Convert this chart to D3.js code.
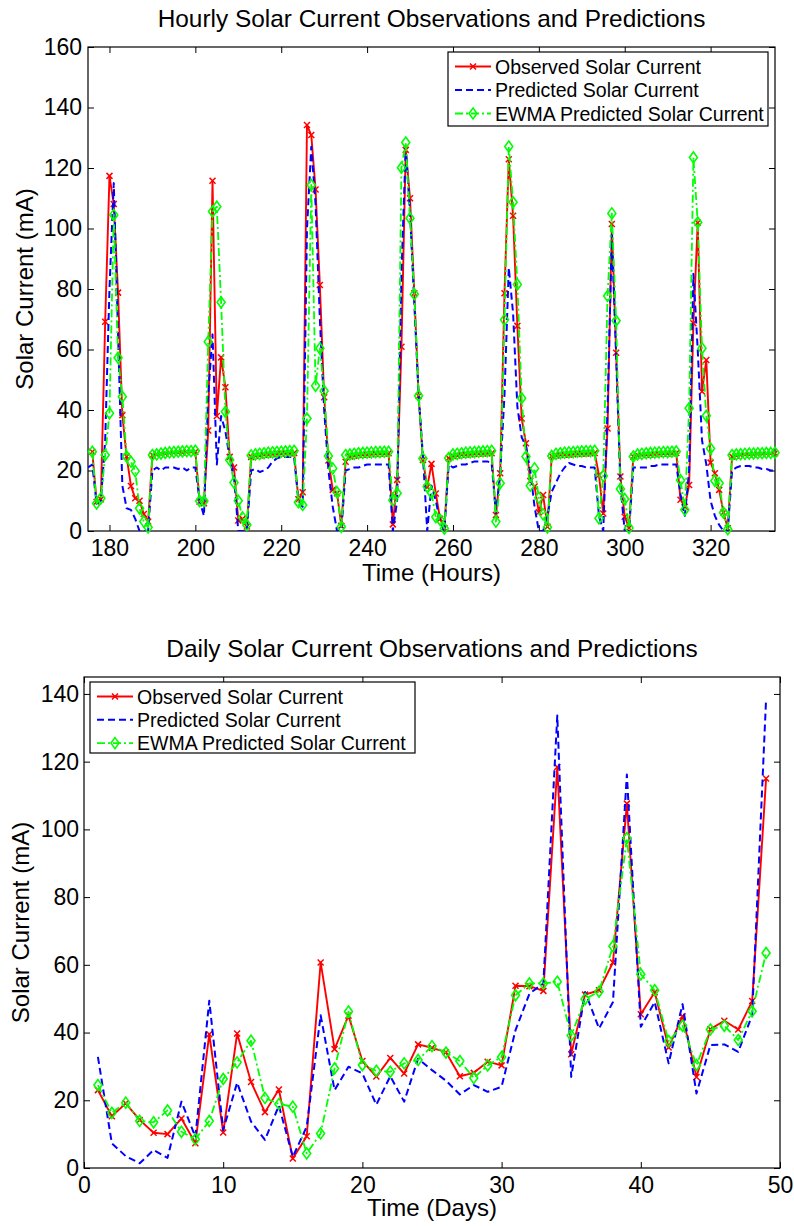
<!DOCTYPE html>
<html>
<head>
<meta charset="utf-8">
<script src="https://cdn.jsdelivr.net/npm/d3@7"></script>
<style>
    body { margin: 0; background: #fff; }
    text { font-family: "Liberation Sans", Arial, Helvetica, sans-serif; fill: #000; }
</style>
</head>
<body>
<svg id="fig" width="794" height="1226"></svg>
<script>
// ---- hourly data (hours 175..335) ----
const hours = d3.range(175, 336);

const obsHourly = [null, 26.2, 9.7, 10.5, 69.2, 117.4, 108.1, 78.8, 38.3, 24.6,
    14.9, 10.8, 10.0, 5.6, 3.1, 25.1, 25.3, 25.5, 25.6, 25.8,
    25.9, 26.0, 26.0, 26.1, 26.2, 26.2, 9.7, 9.2, 33.2, 115.8,
    38.0, 57.4, 47.5, 24.5, 21.0, 3.5, 4.0, 1.5, 24.5, 24.8,
    25.0, 25.2, 25.3, 25.4, 25.5, 25.6, 25.7, 25.7, 25.8, 10.5,
    12.8, 134.2, 130.9, 112.9, 81.3, 44.2, 23.3, 13.6, 12.5, 1.7,
    22.9, 24.6, 24.9, 25.1, 25.2, 25.3, 25.4, 25.5, 25.6, 25.6,
    25.7, 2.2, 16.9, 60.9, 126.0, 110.0, 78.6, 44.6, 23.5, 14.5,
    22.2, 12.4, 4.0, 1.0, 24.1, 24.8, 25.0, 25.2, 25.3, 25.4,
    25.5, 25.6, 25.6, 25.7, 25.7, 5.3, 19.1, 78.6, 122.9, 104.2,
    67.8, 37.2, 29.0, 16.5, 14.7, 6.2, 11.9, 1.4, 24.8, 25.0,
    25.1, 25.2, 25.3, 25.4, 25.5, 25.6, 25.6, 25.7, 25.8, 18.5,
    5.8, 33.9, 101.5, 58.9, 18.0, 4.7, 1.0, 24.6, 25.0, 25.1,
    25.2, 25.3, 25.4, 25.5, 25.6, 25.6, 25.7, 25.8, 10.3, 8.0,
    15.2, 68.7, 101.9, 46.1, 56.5, 22.6, 19.1, 13.6, 6.1, 0.9,
    24.6, 25.0, 25.1, 25.2, 25.3, 25.4, 25.5, 25.5, 25.6, 25.6,
    25.7];

const predHourly = [21, 22, 9, 10, 30, 80, 115, 65, 15, 7.5,
    7, 4, 0, 0, 0, 20, 21, 20, 21, 21,
    21, 20.5, 21, 20, 21, 21, 10, 5, 45, 65,
    22, 38, 33, 24, 18, 0, 0, 0, 20, 20.5,
    19.5, 20, 21, 23, 24, 24.5, 24.5, 24.5, 24.5, 10,
    8, 100, 127, 108, 70, 40, 20, 8, 0, 0,
    20, 20.5, 21, 21, 21.5, 22, 22, 22, 22, 22,
    22, 0, 10, 85, 127, 105, 75, 45, 25, 0,
    15, 10, 3, 0, 22, 21, 21.5, 22, 22, 22.5,
    23, 23, 23, 23, 22.5, 6, 19, 45, 87, 72,
    41, 31, 28, 20, 8, 0, 0, 5, 13, 16,
    19, 21, 22.5, 22, 21.5, 21.5, 21, 21, 21, 5,
    0, 40, 98, 58, 15, 0, 0, 21, 21, 21,
    21, 21.5, 21.5, 22, 22, 22, 22, 22, 12, 5,
    20, 85, 60, 30, 22, 10, 5, 2, 0, 0,
    20, 21, 21.5, 21.5, 21.5, 21, 21, 20.5, 20.5, 20,
    20];

const ewmaHourly = [null, 26.2, 9.1, 10.8, 25.1, 38.9, 104.5, 57.3, 44.4, 24.6,
    22.9, 19.8, 7.5, 3.1, 1.2, 25.1, 25.3, 25.6, 25.8, 26.0,
    26.1, 26.2, 26.3, 26.4, 26.4, 26.5, 9.9, 9.9, 62.6, 105.6,
    107.2, 75.6, 39.4, 23.5, 16.0, 10.0, 4.5, 2.0, 25.0, 25.3,
    25.5, 25.7, 25.9, 26.0, 26.1, 26.2, 26.3, 26.4, 26.5, 9.5,
    8.6, 37.2, 114.4, 48.0, 60.4, 46.3, 24.8, 20.7, 12.8, 1.4,
    25.1, 25.3, 25.5, 25.7, 25.8, 25.9, 26.0, 26.1, 26.1, 26.2,
    26.2, 10.2, 12.5, 120.1, 128.4, 103.4, 78.3, 44.7, 24.0, 14.7,
    12.6, 4.6, 3.7, 0.8, 24.1, 25.3, 25.5, 25.7, 25.9, 26.0,
    26.1, 26.2, 26.3, 26.4, 26.5, 3.1, 15.8, 69.8, 127.1, 108.7,
    81.5, 43.9, 24.6, 15.0, 20.7, 11.0, 5.5, 1.2, 24.8, 25.5,
    25.7, 25.9, 26.0, 26.1, 26.2, 26.3, 26.4, 26.4, 26.5, 4.2,
    18.2, 77.7, 105.0, 69.5, 13.9, 10.6, 1.0, 24.6, 25.3, 25.5,
    25.7, 25.8, 25.9, 26.0, 26.1, 26.1, 26.2, 26.3, 16.8, 7.0,
    40.6, 123.5, 102.0, 60.4, 38.1, 27.3, 16.6, 15.8, 6.1, 0.6,
    25.1, 25.3, 25.4, 25.5, 25.6, 25.6, 25.7, 25.7, 25.8, 25.8,
    25.9];

// ---- daily data (days 1..49) ----
const days = d3.range(1, 50);

const obsDaily = [23.0, 15.3, 19.1, 14.2, 10.4, 10.0, 14.6, 7.3, 39.5, 10.5,
    39.7, 25.4, 16.5, 23.2, 2.8, 9.4, 60.7, 35.1, 45.0, 31.6,
    27.0, 32.5, 27.9, 36.5, 35.5, 34.2, 27.1, 28.1, 31.4, 30.3,
    53.8, 53.7, 52.3, 118.4, 33.6, 51.2, 52.5, 60.7, 107.6, 45.4,
    51.9, 35.6, 44.8, 26.9, 41.0, 43.5, 40.9, 49.3, 115.0];

const predDaily = [32.8, 7.3, 3.5, 1.4, 5.3, 3.0, 19.6, 9.2, 49.4, 11.2,
    25.2, 13.7, 8.3, 18.4, 3.3, 12.2, 45.1, 23.0, 29.9, 27.9,
    18.7, 27.1, 19.6, 32.3, 28.9, 25.8, 21.7, 24.5, 22.5, 24.0,
    40.7, 51.5, 54.5, 133.6, 26.9, 52.0, 41.2, 49.0, 116.2, 41.7,
    49.0, 30.9, 48.4, 22.0, 36.3, 36.5, 34.3, 45.1, 138.5];

const ewmaDaily = [24.5, 16.3, 19.3, 13.9, 13.5, 17.0, 10.7, 8.5, 13.9, 26.3,
    31.2, 37.6, 20.7, 18.9, 18.1, 4.3, 10.2, 29.4, 46.2, 30.4,
    28.7, 28.4, 30.9, 31.9, 36.0, 34.1, 31.6, 26.6, 30.3, 32.8,
    51.0, 54.5, 54.5, 55.0, 39.1, 49.9, 52.1, 65.5, 97.4, 57.2,
    52.5, 37.5, 42.0, 30.4, 40.9, 42.0, 37.8, 46.3, 63.5];

// ticks and labels
const hourTicks = [180, 200, 220, 240, 260, 280, 300, 320];
const hourYTicks = [0, 20, 40, 60, 80, 100, 120, 140, 160];
const dayTicks = [0, 10, 20, 30, 40, 50];
const dayYTicks = [0, 20, 40, 60, 80, 100, 120, 140];
const seriesNames = ["Observed Solar Current", "Predicted Solar Current", "EWMA Predicted Solar Current"];

// line styles for the three series
const styles = [
    { color: "#ff0000", dash: null, width: 1.9, marker: "x" },
    { color: "#0000ff", dash: "7,4", width: 2, marker: null },
    { color: "#00ff00", dash: "8,3,2,3", width: 1.8, marker: "d" }
];

const svg = d3.select("#fig");

function drawMarker(g, type, color) {
    if (type === "x") {
        g.append("path")
            .attr("d", "M-3,-3L3,3M-3,3L3,-3")
            .attr("stroke", color)
            .attr("stroke-width", 1.5)
            .attr("fill", "none");
    } else if (type === "d") {
        g.append("path")
            .attr("d", "M0,-5.5L4,0L0,5.5L-4,0Z")
            .attr("stroke", color)
            .attr("stroke-width", 1.6)
            .attr("fill", "none");
    }
}

function drawPanel(cfg) {
    const x = d3.scaleLinear().domain(cfg.xDomain).range([cfg.left, cfg.right]);
    const y = d3.scaleLinear().domain(cfg.yDomain).range([cfg.bottom, cfg.top]);

    const g = svg.append("g");

    // clip for the lines
    g.append("clipPath")
        .attr("id", cfg.id + "-clip")
        .append("rect")
        .attr("x", cfg.left)
        .attr("y", cfg.top)
        .attr("width", cfg.right - cfg.left)
        .attr("height", cfg.bottom - cfg.top);

    // axes (ticks point inwards, MATLAB style)
    g.append("g")
        .attr("transform", `translate(0,${cfg.bottom})`)
        .call(d3.axisBottom(x).tickValues(cfg.xTicks).tickSizeInner(-6).tickSizeOuter(0).tickPadding(9));
    g.append("g")
        .attr("transform", `translate(0,${cfg.top})`)
        .call(d3.axisTop(x).tickValues(cfg.xTicks).tickSizeInner(-6).tickSizeOuter(0).tickFormat(""));
    g.append("g")
        .attr("transform", `translate(${cfg.left},0)`)
        .call(d3.axisLeft(y).tickValues(cfg.yTicks).tickSizeInner(-6).tickSizeOuter(0).tickPadding(cfg.yPad));
    g.append("g")
        .attr("transform", `translate(${cfg.right},0)`)
        .call(d3.axisRight(y).tickValues(cfg.yTicks).tickSizeInner(-6).tickSizeOuter(0).tickFormat(""));

    g.selectAll(".domain").remove();
    g.selectAll(".tick line").attr("stroke", "#000").attr("stroke-width", 1);
    g.selectAll(".tick text").style("font-size", "23px").attr("fill", "#000");

    g.append("rect")
        .attr("x", cfg.left)
        .attr("y", cfg.top)
        .attr("width", cfg.right - cfg.left)
        .attr("height", cfg.bottom - cfg.top)
        .attr("fill", "none")
        .attr("stroke", "#000")
        .attr("stroke-width", 1.2);

    // series
    cfg.series.forEach(function (vals, i) {
        const st = styles[i];
        const pts = cfg.xs.map((d, j) => ({ x: d, v: vals[j] }));
        const line = d3.line()
            .defined((d) => d.v !== null)
            .x((d) => x(d.x))
            .y((d) => y(d.v));
        g.append("path")
            .datum(pts)
            .attr("clip-path", `url(#${cfg.id}-clip)`)
            .attr("d", line)
            .attr("fill", "none")
            .attr("stroke", st.color)
            .attr("stroke-width", st.width)
            .attr("stroke-dasharray", st.dash)
            .attr("stroke-linejoin", "round");
        if (st.marker) {
            pts.filter((d) => d.v !== null).forEach(function (d) {
                const m = g.append("g").attr("transform", `translate(${x(d.x)},${y(d.v)})`);
                drawMarker(m, st.marker, st.color);
            });
        }
    });

    // title and labels
    const cx = (cfg.left + cfg.right) / 2;
    g.append("text")
        .attr("x", cx)
        .attr("y", cfg.titleY)
        .attr("text-anchor", "middle")
        .style("font-size", "24.4px")
        .text(cfg.title);
    g.append("text")
        .attr("x", cx)
        .attr("y", cfg.xLabelY)
        .attr("text-anchor", "middle")
        .style("font-size", "24px")
        .text(cfg.xLabel);
    g.append("text")
        .attr("transform", `translate(${cfg.yLabelX},${(cfg.top + cfg.bottom) / 2}) rotate(-90)`)
        .attr("text-anchor", "middle")
        .style("font-size", "24px")
        .text("Solar Current (mA)");

    // legend
    const lg = cfg.legend;
    g.append("rect")
        .attr("x", lg.x)
        .attr("y", lg.y)
        .attr("width", lg.w)
        .attr("height", lg.h)
        .attr("fill", "#fff")
        .attr("stroke", "#000")
        .attr("stroke-width", 1.2);
    seriesNames.forEach(function (name, i) {
        const st = styles[i];
        const ry = lg.y + 14.5 + i * lg.step;
        g.append("line")
            .attr("x1", lg.x + 7)
            .attr("x2", lg.x + 43)
            .attr("y1", ry)
            .attr("y2", ry)
            .attr("stroke", st.color)
            .attr("stroke-width", st.width)
            .attr("stroke-dasharray", st.dash);
        if (st.marker) {
            const m = g.append("g").attr("transform", `translate(${lg.x + 25},${ry})`);
            drawMarker(m, st.marker, st.color);
        }
        g.append("text")
            .attr("x", lg.x + 47)
            .attr("y", ry + 7)
            .style("font-size", "19.5px")
            .text(name);
    });
}

drawPanel({
    id: "hourly",
    left: 88, right: 775, top: 47, bottom: 531,
    xDomain: [175, 335], yDomain: [0, 160],
    xTicks: hourTicks, yTicks: hourYTicks, yPad: 6,
    xs: hours,
    series: [obsHourly, predHourly, ewmaHourly],
    title: "Hourly Solar Current Observations and Predictions",
    titleY: 27,
    xLabel: "Time (Hours)",
    xLabelY: 581,
    yLabelX: 33,
    legend: { x: 448, y: 52, w: 320, h: 74, step: 23.5 }
});

drawPanel({
    id: "daily",
    left: 84, right: 780, top: 677, bottom: 1168,
    xDomain: [0, 50], yDomain: [0, 145],
    xTicks: dayTicks, yTicks: dayYTicks, yPad: 5,
    xs: days,
    series: [obsDaily, predDaily, ewmaDaily],
    title: "Daily Solar Current Observations and Predictions",
    titleY: 657,
    xLabel: "Time (Days)",
    xLabelY: 1216,
    yLabelX: 29,
    legend: { x: 90, y: 682, w: 325, h: 71, step: 23.3 }
});
</script>
</body>
</html>
